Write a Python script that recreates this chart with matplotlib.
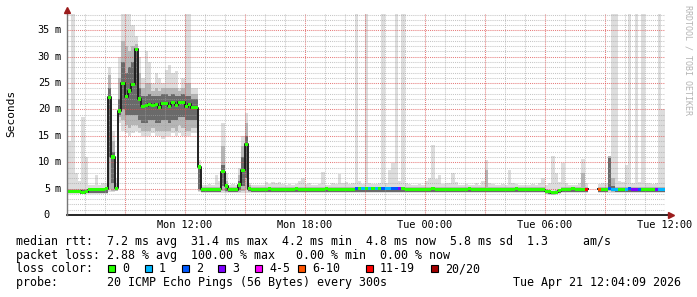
import numpy as np
import matplotlib.pyplot as plt
from matplotlib.patches import Rectangle

plt.rcParams['font.family'] = 'DejaVu Sans Mono'

nan = float('nan')

# one sample every 10 minutes, time in hours since Mon 00:00
t_first = 6 + 10 / 60
step = 10 / 60

# median rtt (ms)
median = ([4.4, 4.4, 4.5, 4.5, 4.2, 4.4, 4.8, 4.9, 4.8, 4.9, 4.9, 5.0]
          + [22.3, 11.0, 5.1]
          + [19.7, 25.0, 22.4, 23.5, 24.8, 31.4, 22.0, 20.6, 20.7, 21.0, 20.8, 21.0,
             20.3, 21.2, 21.2, 20.6, 21.3, 20.8, 21.4, 21.4, 20.5, 21.0, 20.3, 20.3, 9.1]
          + [4.9, 4.9, 4.8, 4.9, 4.9, 4.9, 8.2, 5.5, 4.9, 4.8, 4.8, 5.7, 8.5, 13.4, 5.0]
          + [4.9, 4.9, 4.8, 4.9, 4.9, 5.0, 4.9, 4.9, 4.9, 4.8, 4.9, 4.9, 4.9, 5.0, 4.9, 4.9,
             4.9, 4.8, 4.9, 4.9, 4.9, 4.9, 5.0, 4.9, 4.9, 4.9, 4.9, 4.8, 4.9, 4.9, 4.9]
          + [5.0] * 15
          + [4.9, 4.9, 4.9, 4.8, 4.9, 4.9, 4.9, 4.9, 5.0, 4.9, 4.9, 4.9, 4.8, 4.8, 4.9, 4.9,
             4.9, 4.9, 4.9, 5.0, 4.9, 4.9, 4.8, 4.9, 4.9, 4.9, 4.9, 4.9, 4.8, 4.9, 4.9, 4.9,
             4.9, 5.0, 4.9, 4.9, 4.8, 4.8, 4.9, 4.9, 4.9, 4.8]
          + [4.5, 4.4, 4.2, 4.3, 4.6]
          + [4.8, 4.9, 4.9, 5.0, 4.9, 4.9, 4.9, 4.9]
          + [nan] * 3
          + [4.9, 4.9, 4.9, 5.0, 4.9, 4.9, 4.9, 4.9, 4.9, 5.0, 4.9, 4.9, 4.9, 4.9, 4.9,
             4.9, 4.8, 4.9, 4.8, 4.8])

# lost pings out of 20
loss = ([0] * 86
        + [2, 0, 1, 0, 1, 0, 1, 0, 2, 1, 1, 2, 2, 3, 0]
        + [0] * 54
        + [12] + [0] * 3
        + [7, 0, 0, 2, 1, 1, 0, 0, 1, 2, 3, 3, 2, 0, 0, 0, 0, 3, 1, 1])

# smoke: outer pings
lo = ([4.0] * 12
      + [4.3, 4.4, 4.5]
      + [17.5, 16, 15.5, 15, 15.5, 16, 15.5, 15, 15, 15, 15.5, 15, 15, 14.5, 15, 15,
         15.5, 15, 15.5, 15, 15, 15, 15.5, 15.5, 4.4]
      + [4.2] * 103
      + [3.9, 3.8, 3.7, 3.8, 4.0] + [4.2] * 8
      + [nan] * 3 + [4.2] * 20)
hi = ([14, 38.1, 8, 6.5, 18.5, 11, 5.6, 5.6, 7.5, 5.6, 6, 6]
      + [28, 16, 7]
      + [30, 38.1, 38.1, 38.1, 36, 34, 30, 26, 31, 29, 25, 27, 26, 25, 27.5, 28.4,
         27, 27.3, 24, 26, 38.1, 38.1, 24, 24, 10.5]
      + [5.6, 5.6, 5.8, 5.6, 7.6, 6.5, 17.4, 8, 5.6, 5.8, 5.6, 9, 15, 19.3, 6]
      + [5.6, 5.6, 5.7, 5.6, 6.2, 5.8, 6.3, 6.0, 6.2, 5.8, 5.6, 5.8, 5.6, 5.8,
         6.5, 7.0, 5.8, 6.0, 5.7, 5.6, 5.9, 8.2, 5.7, 5.6, 6.0, 5.8, 7.8, 6.0, 6.2, 5.8, 6.0]
      + [38.1, 6.5, 5.8, 38.1, 6.0, 5.8, 5.9, 6.0, 38.1, 6.0, 8.5, 9.8, 38.1, 6.5, 38.1]
      + [6.0, 5.8, 5.7, 5.6, 5.8, 5.7, 6.5, 7.0, 13.3, 6.8, 7.6, 5.8, 6.0, 6.0, 8.0, 6.2,
         5.6, 5.7, 5.8, 5.6, 5.6, 6.0, 5.7, 6.4, 10.4, 6.0, 5.8, 5.6, 5.6, 5.8, 5.6, 8.5,
         6.0, 5.8, 5.6, 5.6, 5.7, 5.6, 5.8, 5.6, 6.0, 7.0, 5.6, 6.0, 11.2, 8.0, 6.2, 9.8,
         6.0, 5.7, 5.6, 5.7, 6.0, 10.6, 6.0]
      + [nan] * 3
      + [5.8, 6.0, 6.0, 11.2, 38.1, 38.1, 6.5, 6.2, 9.5, 38.1, 6.0, 38.1, 6.2, 38.1,
         6.0, 6.0, 5.8, 6.0, 38.1, 20])

# smoke: middle pings
mid_lo = ([4.1] * 12 + [5.0, 4.6, 4.6]
          + [18.5, 18, 17, 16.5, 17, 17, 16.5, 16, 16, 16, 16.5, 16, 16, 16, 16, 16,
             16.5, 16, 17, 16.5, 16, 16, 16.5, 16.5, 4.6]
          + [4.3] * 6 + [4.6, 4.4, 4.3, 4.3, 4.3, 4.4, 4.6, 5.0, 4.4]
          + [4.3] * 88
          + [4.0, 3.9, 3.8, 3.9, 4.1] + [4.3] * 8
          + [nan] * 3 + [4.3] * 3 + [4.5] + [4.3] * 16)
mid_hi = ([5.0] * 12 + [26.5, 14, 6.0]
          + [26, 33, 32, 31, 32, 32.5, 27, 24, 25, 25, 23.5, 24, 23.5, 24, 24, 24,
             24, 24, 23.5, 24, 25, 25, 23, 23, 9.5]
          + [5.3] * 6 + [13, 6.5, 5.3, 5.3, 5.3, 7.5, 13, 17.5, 5.6]
          + [5.3] * 70 + [8.5] + [5.3] * 17
          + [4.9, 4.8, 4.6, 4.7, 5.0] + [5.3] * 6 + [8.0, 5.3]
          + [nan] * 3 + [5.3] * 3 + [11.2, 7.0] + [5.3] * 15)

# smoke: inner pings
core_lo = ([4.2] * 12 + [11, 6, 4.8]
           + [19, 20, 19, 19, 19, 19, 18, 17.5, 17.5, 18, 18, 17.5, 17.5, 18, 18, 17.5,
              18, 18, 18.5, 18.5, 18, 18, 18, 18, 5.0]
           + [4.45] * 6 + [5.5, 4.6, 4.45, 4.45, 4.45, 4.8, 5.5, 7.0, 4.6]
           + [4.45] * 88
           + [4.1, 4.0, 3.9, 4.0, 4.2] + [4.45] * 8
           + [nan] * 3 + [4.45] * 3 + [5.0, 4.8] + [4.45] * 15)
core_hi = ([4.8] * 12 + [24, 12, 5.3]
           + [22, 29, 27, 28, 29, 31, 24, 22.5, 22.5, 23, 22.5, 22.5, 22.5, 23, 23, 22.5,
              23, 22.5, 22.5, 23, 22.5, 22.5, 22, 22, 9.2]
           + [5.0] * 6 + [9.5, 5.8, 5.0, 5.0, 5.0, 6.5, 11, 15, 5.2]
           + [5.0] * 88
           + [4.6, 4.5, 4.3, 4.4, 4.7] + [5.0] * 8
           + [nan] * 3 + [5.0] * 3 + [10.8, 5.5] + [5.0] * 15)

x_ticks = [12, 18, 24, 30, 36]
x_labels = ['Mon 12:00', 'Mon 18:00', 'Tue 00:00', 'Tue 06:00', 'Tue 12:00']
y_ticks = [0, 5, 10, 15, 20, 25, 30, 35]

loss_names = ['0', '1', '2', '3', '4-5', '6-10', '11-19', '20/20']
loss_colors = ['#26ff00', '#00b8ff', '#0059ff', '#7e00ff', '#ff00ff', '#ff5500', '#ff0000', '#a10000']
loss_from = [0, 1, 2, 3, 4, 6, 11, 20]

line_rtt = 'median rtt:  7.2 ms avg  31.4 ms max  4.2 ms min  4.8 ms now  5.8 ms sd  1.3     am/s'
line_loss = 'packet loss: 2.88 % avg  100.00 % max   0.00 % min  0.00 % now'
line_probe = 'probe:       20 ICMP Echo Pings (56 Bytes) every 300s'
stamp = 'Tue Apr 21 12:04:09 2026'

W, H = 697, 297
x_min, x_max = 6.125, 36.02
y_max = 38.1

fig = plt.figure(figsize=(W / 100, H / 100), dpi=100)
fig.patch.set_facecolor('white')
ax = fig.add_axes([67 / W, 1 - 215 / H, 598 / W, 201 / H])
ax.set_xlim(x_min, x_max)
ax.set_ylim(0, y_max)
for s in ax.spines.values():
    s.set_visible(False)
ax.set_xticks([])
ax.set_yticks([])

t = t_first + step * np.arange(len(median))
med = np.array(median, float)

# smoke bands, light to dark
for a, b, col in [(lo, hi, '#dddddd'), (mid_lo, mid_hi, '#b6b6b6'), (core_lo, core_hi, '#6a6a6a')]:
    a = np.array(a, float)
    b = np.array(b, float)
    ax.bar(t, b - a, bottom=a, width=step, align='edge', color=col,
           linewidth=0, antialiased=False, zorder=1)

# grid
for h in range(7, 37):
    major = h % 3 == 0
    ax.axvline(h, color='#de5050' if major else '#a0a0a0', alpha=0.75 if major else 0.6,
               lw=0.75, ls=(0, (1, 1)), zorder=1.5)
for v in range(1, 39):
    major = v % 5 == 0
    ax.axhline(v, color='#de5050' if major else '#a0a0a0', alpha=0.75 if major else 0.6,
               lw=0.75, ls=(0, (1, 1)), zorder=1.5)

# median line and loss coloured boxes
tx = np.append(t, t[-1] + step)
ax.step(tx, np.append(med, med[-1]), where='post', color='#202020', lw=1.4, zorder=3)
bucket = np.searchsorted(loss_from, loss, side='right') - 1
for k, col in enumerate(loss_colors):
    m = (bucket == k) & ~np.isnan(med)
    ax.bar(t[m], 0.6, bottom=med[m] - 0.3, width=step, align='edge', color=col,
           linewidth=0, antialiased=False, zorder=4)

# axes with arrows
ax.plot([x_min, x_max + 0.3], [0, 0], color='black', lw=1.2, clip_on=False, zorder=5)
ax.plot([x_min, x_min], [0, y_max + 0.6], color='#777777', lw=1, clip_on=False, zorder=5)
ax.plot([x_max + 0.3], [0], marker='>', ms=4.5, color='#9b1c1c', clip_on=False, zorder=6)
ax.plot([x_min], [y_max + 0.8], marker='^', ms=4.5, color='#9b1c1c', clip_on=False, zorder=6)

# tick labels
for v in y_ticks:
    ax.text(-0.0285, v, str(v), transform=ax.get_yaxis_transform(), ha='right',
            va='center', fontsize=7.4)
    if v > 0:
        ax.text(-0.0205, v, 'm', transform=ax.get_yaxis_transform(), ha='left',
                va='center', fontsize=7.4)
for h, lab in zip(x_ticks, x_labels):
    ax.text(h, -0.025, lab, transform=ax.get_xaxis_transform(), ha='center',
            va='top', fontsize=7.4)

fig.text(11 / W, 1 - 113 / H, 'Seconds', rotation=90, ha='center', va='center', fontsize=8)
fig.text(688 / W, 1 - 60 / H, 'RRDTOOL / TOBI OETIKER', rotation=270, ha='center',
         va='center', fontsize=6, color='#b4b4b4')


def put(x, y, s, ha='left'):
    fig.text(x / W, 1 - y / H, s, ha=ha, va='baseline', fontsize=8.35)


put(16, 245, line_rtt)
put(16, 258.5, line_loss)
put(16, 272, 'loss color:')
sq_x = [108, 145, 182, 218, 255, 298, 366, 431]
for x, name, col in zip(sq_x, loss_names, loss_colors):
    fig.patches.append(Rectangle((x / W, 1 - 272 / H), 7 / W, 7 / H, transform=fig.transFigure,
                                 facecolor=col, edgecolor='black', lw=0.8))
    put(x + 14, 272, name)
put(16, 286, line_probe)
put(681, 286, stamp, ha='right')

fig.savefig('out.png', dpi=100, facecolor='white')
